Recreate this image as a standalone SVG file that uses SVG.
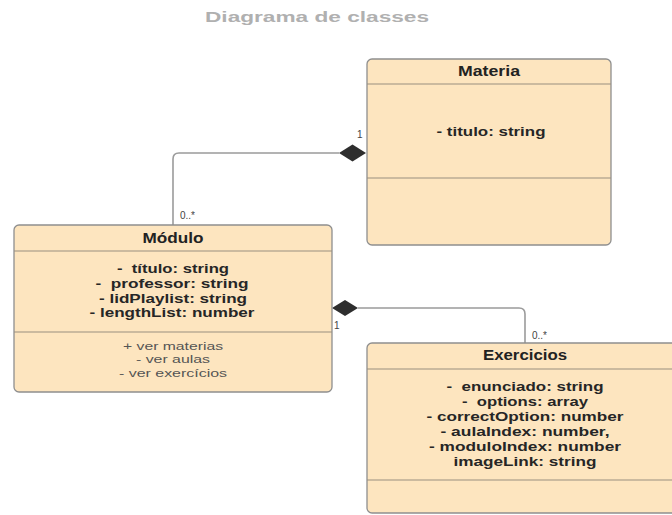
<svg xmlns="http://www.w3.org/2000/svg" width="672" height="515" viewBox="0 0 672 515">
<style>
.box{fill:#fde5bf;stroke:#8f8f8f;stroke-width:1.3}
.div{stroke:#9a8f80;stroke-width:1.2}
.hdr{font-family:"Liberation Sans",Arial,sans-serif;font-weight:bold;font-size:14px;fill:#222;text-anchor:middle}
.att{font-family:"Liberation Sans",Arial,sans-serif;font-weight:bold;font-size:13px;fill:#262626;text-anchor:middle;white-space:pre}
.mth{font-family:"Liberation Sans",Arial,sans-serif;font-size:11px;fill:#555;text-anchor:middle}
.mul{font-family:"Liberation Sans",Arial,sans-serif;font-size:10px;fill:#444}
.conn{fill:none;stroke:#9b9b9b;stroke-width:1.6}
.dia{fill:#2e2e2e}
</style>
<rect width="672" height="515" fill="#ffffff"/>
<text x="317" y="22" font-family="'Liberation Sans',Arial,sans-serif" font-weight="bold" font-size="14.5" fill="#b0b0b0" text-anchor="middle" textLength="224" lengthAdjust="spacingAndGlyphs">Diagrama de classes</text>

<g id="connectors">
<path class="conn" d="M339,153 H179 Q173,153 173,159 V225"/>
<polygon class="dia" points="366,153 352.5,144.5 339,153 352.5,161.5"/>
<path class="conn" d="M358,308 H519 Q525,308 525,314 V343"/>
<polygon class="dia" points="332,308 345,300 358,308 345,316"/>
<text class="mul" x="357" y="138">1</text>
<text class="mul" x="180" y="219">0..*</text>
<text class="mul" x="334" y="329">1</text>
<text class="mul" x="532" y="339">0..*</text>
</g>

<g id="materia">
<rect class="box" x="367" y="59" width="244" height="186" rx="5"/>
<line class="div" x1="367" y1="84" x2="611" y2="84"/>
<line class="div" x1="367" y1="178" x2="611" y2="178"/>
<text class="hdr" x="489" y="76" textLength="62" lengthAdjust="spacingAndGlyphs">Materia</text>
<text class="att" x="491" y="136" textLength="109" lengthAdjust="spacingAndGlyphs">- titulo: string</text>
</g>

<g id="modulo">
<rect class="box" x="14" y="225" width="318" height="167" rx="5"/>
<line class="div" x1="14" y1="251" x2="332" y2="251"/>
<line class="div" x1="14" y1="332" x2="332" y2="332"/>
<text class="hdr" x="173" y="243" textLength="61" lengthAdjust="spacingAndGlyphs">Módulo</text>
<text class="att" x="173" y="273" textLength="112" lengthAdjust="spacingAndGlyphs">-  título: string</text>
<text class="att" x="172" y="288" textLength="153" lengthAdjust="spacingAndGlyphs">-  professor: string</text>
<text class="att" x="173" y="302.5" textLength="148" lengthAdjust="spacingAndGlyphs">- lidPlaylist: string</text>
<text class="att" x="172" y="317" textLength="165" lengthAdjust="spacingAndGlyphs">- lengthList: number</text>
<text class="mth" x="173" y="350" textLength="100" lengthAdjust="spacingAndGlyphs">+ ver materias</text>
<text class="mth" x="173" y="363" textLength="74" lengthAdjust="spacingAndGlyphs">- ver aulas</text>
<text class="mth" x="173" y="377" textLength="108" lengthAdjust="spacingAndGlyphs">- ver exercícios</text>
</g>

<g id="exercicios">
<rect class="box" x="367" y="343" width="316" height="170" rx="5"/>
<line class="div" x1="367" y1="369" x2="683" y2="369"/>
<line class="div" x1="367" y1="480" x2="683" y2="480"/>
<text class="hdr" x="525" y="360" textLength="84" lengthAdjust="spacingAndGlyphs">Exercicios</text>
<text class="att" x="525" y="391" textLength="157" lengthAdjust="spacingAndGlyphs">-  enunciado: string</text>
<text class="att" x="525" y="406" textLength="126" lengthAdjust="spacingAndGlyphs">-  options: array</text>
<text class="att" x="525" y="421" textLength="197" lengthAdjust="spacingAndGlyphs">- correctOption: number</text>
<text class="att" x="525" y="436" textLength="169" lengthAdjust="spacingAndGlyphs">- aulaIndex: number,</text>
<text class="att" x="525" y="451" textLength="192" lengthAdjust="spacingAndGlyphs">- moduloIndex: number</text>
<text class="att" x="525" y="466" textLength="143" lengthAdjust="spacingAndGlyphs">imageLink: string</text>
</g>
</svg>
